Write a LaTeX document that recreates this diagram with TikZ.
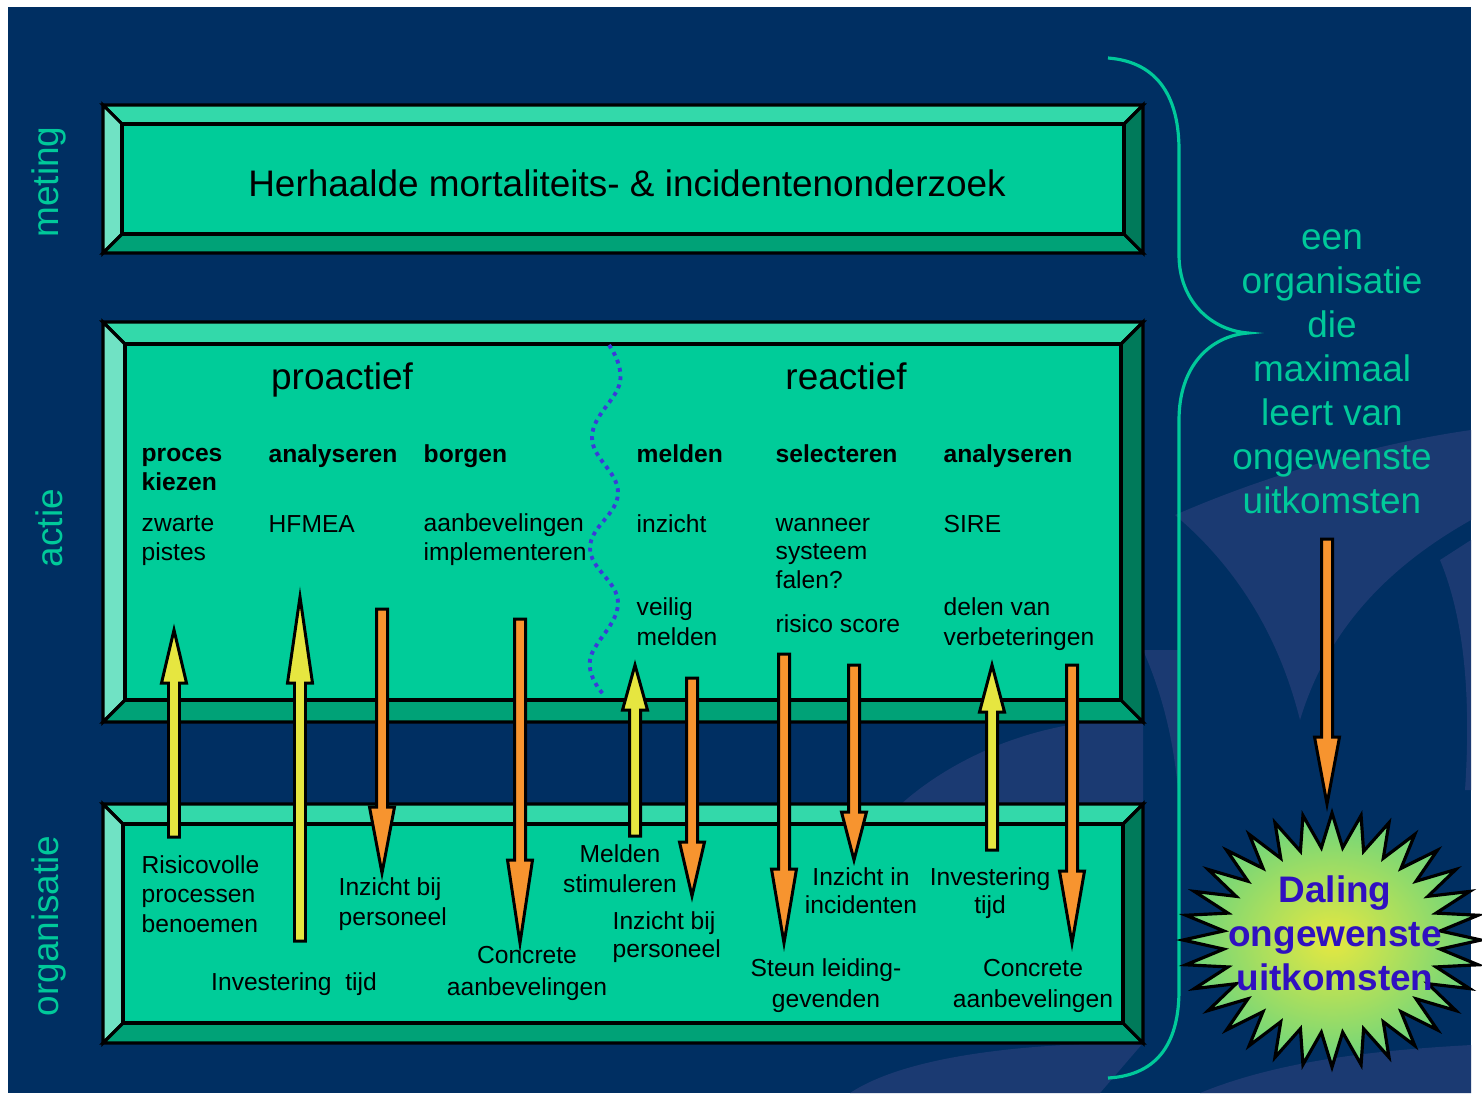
\documentclass[tikz,border=0pt]{standalone}
\usepackage{fontspec}
\setmainfont{Liberation Sans}
\usetikzlibrary{arrows.meta,positioning,calc}
\definecolor{navyBg}{HTML}{002F62}
\definecolor{navyMark}{HTML}{1B3A72}
\definecolor{faceGreen}{HTML}{00CC99}
\definecolor{bevelTop}{HTML}{33D9AA}
\definecolor{bevelLeft}{HTML}{70E2C4}
\definecolor{bevelBottom}{HTML}{00A277}
\definecolor{bevelRight}{HTML}{007A5A}
\definecolor{arrowYellow}{HTML}{E6E640}
\definecolor{arrowOrange}{HTML}{F7942F}
\definecolor{waveBlue}{HTML}{3B3BD9}
\definecolor{labelTeal}{HTML}{00C99A}
\definecolor{burstInk}{HTML}{3010C0}
\definecolor{burstYellow}{HTML}{E6E840}
\definecolor{burstGreen}{HTML}{33CC99}
\pgfdeclareradialshading{burstshade}{\pgfpoint{0bp}{0bp}}{color(0bp)=(burstYellow); color(36bp)=(burstGreen); color(50bp)=(burstGreen)}

% bevelled panel: x1, y1, x2, y2, bevel width (pixel units)
\newcommand{\bevelbox}[5]{%
  \filldraw[bevel, fill=bevelTop] (#1,#2) -- (#3,#2) -- (#3-#5,#2+#5) -- (#1+#5,#2+#5) -- cycle;
  \filldraw[bevel, fill=bevelLeft] (#1,#2) -- (#1+#5,#2+#5) -- (#1+#5,#4-#5) -- (#1,#4) -- cycle;
  \filldraw[bevel, fill=bevelBottom] (#1,#4) -- (#1+#5,#4-#5) -- (#3-#5,#4-#5) -- (#3,#4) -- cycle;
  \filldraw[bevel, fill=bevelRight] (#3,#2) -- (#3,#4) -- (#3-#5,#4-#5) -- (#3-#5,#2+#5) -- cycle;
  \filldraw[bevel, fill=faceGreen] (#1+#5,#2+#5) rectangle (#3-#5,#4-#5);
}
% block arrow: colour, x, tail y, head base y, tip y
\newcommand{\blockarrow}[5]{%
  \filldraw[arrowline, fill=#1] (#2-5.5,#3) -- (#2-5.5,#4) -- (#2-12.5,#4) -- (#2,#5)
    -- (#2+12.5,#4) -- (#2+5.5,#4) -- (#2+5.5,#3) -- cycle;
}

\begin{document}
\begin{tikzpicture}[x=0.01cm,y=-0.01cm,
  bevel/.style={draw=black,line width=0.9pt,line join=miter},
  arrowline/.style={draw=black,line width=0.85pt,line join=miter},
  sidelabel/.style={rotate=90,text=labelTeal,font=\fontsize{10.5}{12}\selectfont,inner sep=0pt},
  bigtitle/.style={anchor=base,font=\fontsize{10.5}{12}\selectfont,inner sep=0pt},
  colhead/.style={anchor=base west,align=left,font=\bfseries\fontsize{7}{8}\selectfont,inner sep=0pt},
  colbody/.style={anchor=base west,align=left,font=\fontsize{7}{8}\selectfont,inner sep=0pt},
  orgtext/.style={anchor=base,align=center,inner sep=0pt},
  orgleft/.style={anchor=base west,align=left,inner sep=0pt},
  wave/.style={draw=waveBlue,line width=1.1pt,dash pattern=on 1.1pt off 1.3pt},
  brace/.style={draw=labelTeal,line width=0.9pt},
  burst/.style={draw=black,line width=0.9pt,line join=miter,shading=burstshade}]
\useasboundingbox (0,0) rectangle (1482,1093);
\fill[white] (0,0) rectangle (1482,1093);
\fill[navyBg] (8,7) rectangle (1471,1093);

% watermark (last line of each multi-line text is its base)
\fill[navyMark] (1175,515) .. controls (1290,465) and (1400,440) .. (1471,430) -- (1471,520)
  .. controls (1400,560) and (1330,620) .. (1300,720) .. controls (1280,640) and (1240,570) .. (1175,515) -- cycle;
\fill[navyMark] (1440,560) .. controls (1465,620) and (1471,700) .. (1465,790) -- (1471,790) -- (1471,540) -- cycle;
\fill[navyMark] (1143,650) .. controls (1165,700) and (1180,760) .. (1180,840) -- (1180,650) -- cycle;
\fill[navyMark] (900,805) .. controls (950,760) and (1020,730) .. (1090,722) -- (1143,722) -- (1143,805) -- cycle;
\fill[navyMark] (850,1093) .. controls (900,1060) and (1000,1045) .. (1120,1043) -- (1143,1043) -- (1100,1093) -- cycle;
\fill[navyMark] (1200,1093) .. controls (1280,1060) and (1380,1050) .. (1471,1045) -- (1471,1093) -- cycle;

% panels
\bevelbox{103}{105}{1143}{253}{19}
\bevelbox{103}{322}{1143}{722}{22}
\bevelbox{103}{804}{1143}{1043}{20}

% side labels
\node[sidelabel] (lblMeting) at (49,182) {meting};
\node[sidelabel] (lblActie) at (49,528) {actie};
\node[sidelabel] (lblOrganisatie) at (49,926) {organisatie};

% meting
\node[bigtitle] (onderzoek) at (627,196) {Herhaalde mortaliteits- \& incidentenonderzoek};

% actie
\node[bigtitle] (proactief) at (342,389) {proactief};
\node[bigtitle] (reactief) at (846,389) {reactief};
\draw[wave] plot[smooth,tension=0.7] coordinates {(609,345) (620,382) (592,437) (618,493) (590,548) (618,603) (590,660) (604,695)};

\node[colhead] (hProces) at (141,490) {proces\\kiezen};
\node[colhead] (hAnalyseP) at (268,462) {analyseren};
\node[colhead] (hBorgen) at (423,462) {borgen};
\node[colhead] (hMelden) at (636,462) {melden};
\node[colhead] (hSelecteren) at (775,462) {selecteren};
\node[colhead] (hAnalyseR) at (943,462) {analyseren};

\node[colbody] (bZwarte) at (141,560) {zwarte\\pistes};
\node[colbody] (bHfmea) at (268,532) {HFMEA};
\node[colbody] (bAanbev) at (423,560) {aanbevelingen\\implementeren};
\node[colbody] (bInzicht) at (636,532) {inzicht};
\node[colbody] (bWanneer) at (775,588) {wanneer\\systeem\\falen?};
\node[colbody] (bSire) at (943,532) {SIRE};
\node[colbody,font=\fontsize{7}{8.5}\selectfont] (bVeilig) at (636,645) {veilig\\melden};
\node[colbody] (bRisico) at (775,632) {risico score};
\node[colbody,font=\fontsize{7}{8.5}\selectfont] (bDelen) at (943,645) {delen van\\verbeteringen};

% organisatie
\node[orgleft,font=\fontsize{7}{8.3}\selectfont] (oRisico) at (141,932) {Risicovolle\\processen\\benoemen};
\node[orgtext,font=\fontsize{7}{8.3}\selectfont] (oTijdA) at (294,990) {Investering\ \ tijd};
\node[orgleft,font=\fontsize{7}{8.5}\selectfont] (oPersA) at (338,925) {Inzicht bij\\personeel};
\node[orgtext,font=\fontsize{7}{9}\selectfont] (oConcA) at (527,995) {Concrete\\aanbevelingen};
\node[orgtext,font=\fontsize{7}{8.5}\selectfont] (oMelden) at (620,892) {Melden\\stimuleren};
\node[orgleft,font=\fontsize{7}{7.7}\selectfont] (oPersB) at (612,957) {Inzicht bij\\personeel};
\node[orgtext,font=\fontsize{7}{8.8}\selectfont] (oSteun) at (826,1007) {Steun leiding-\\gevenden};
\node[orgtext,font=\fontsize{7}{7.7}\selectfont] (oIncid) at (861,913) {Inzicht in\\incidenten};
\node[orgtext,font=\fontsize{7}{7.7}\selectfont] (oTijdB) at (990,913) {Investering\\tijd};
\node[orgtext,font=\fontsize{7}{8.8}\selectfont] (oConcB) at (1033,1007) {Concrete\\aanbevelingen};

% arrows between organisatie and actie
\blockarrow{arrowYellow}{174}{837}{683}{630}
\blockarrow{arrowYellow}{300}{941}{683}{597}
\blockarrow{arrowOrange}{382}{609}{807}{873}
\blockarrow{arrowOrange}{520}{619}{860}{943}
\blockarrow{arrowYellow}{635}{836}{710}{665}
\blockarrow{arrowOrange}{692}{678}{842}{896}
\blockarrow{arrowOrange}{784}{654}{869}{943}
\blockarrow{arrowOrange}{854}{665}{812}{860}
\blockarrow{arrowYellow}{992}{850}{712}{665}
\blockarrow{arrowOrange}{1072}{665}{871}{943}

% brace and outcome
\draw[brace] (1108,58) .. controls (1160,62) and (1179,100) .. (1179,150) -- (1179,255)
  .. controls (1179,300) and (1210,330) .. (1248,333) .. controls (1210,336) and (1179,366) .. (1179,420)
  -- (1179,990) .. controls (1179,1040) and (1160,1075) .. (1108,1078);
\node[orgtext,text=labelTeal,font=\fontsize{10.5}{12.5}\selectfont] (leert) at (1332,513)
  {een\\organisatie\\die\\maximaal\\leert van\\ongewenste\\uitkomsten};
\blockarrow{arrowOrange}{1327}{539}{737}{804}

\begin{scope}[shift={(1332,940)}]
  \shadedraw[burst] (149,0) \foreach \k [evaluate=\k as \rr using {(isodd(\k) ? 0.73 : 1)},
    evaluate=\k as \ang using {\k*5.625}]
    in {1,...,63} { -- ({149*\rr*cos(\ang)},{127*\rr*sin(\ang)}) } -- cycle;
\end{scope}
\node[orgtext,text=burstInk,font=\bfseries\fontsize{10.5}{12.5}\selectfont] (daling) at (1335,990)
  {Daling\\ongewenste\\uitkomsten};
\end{tikzpicture}
\end{document}
